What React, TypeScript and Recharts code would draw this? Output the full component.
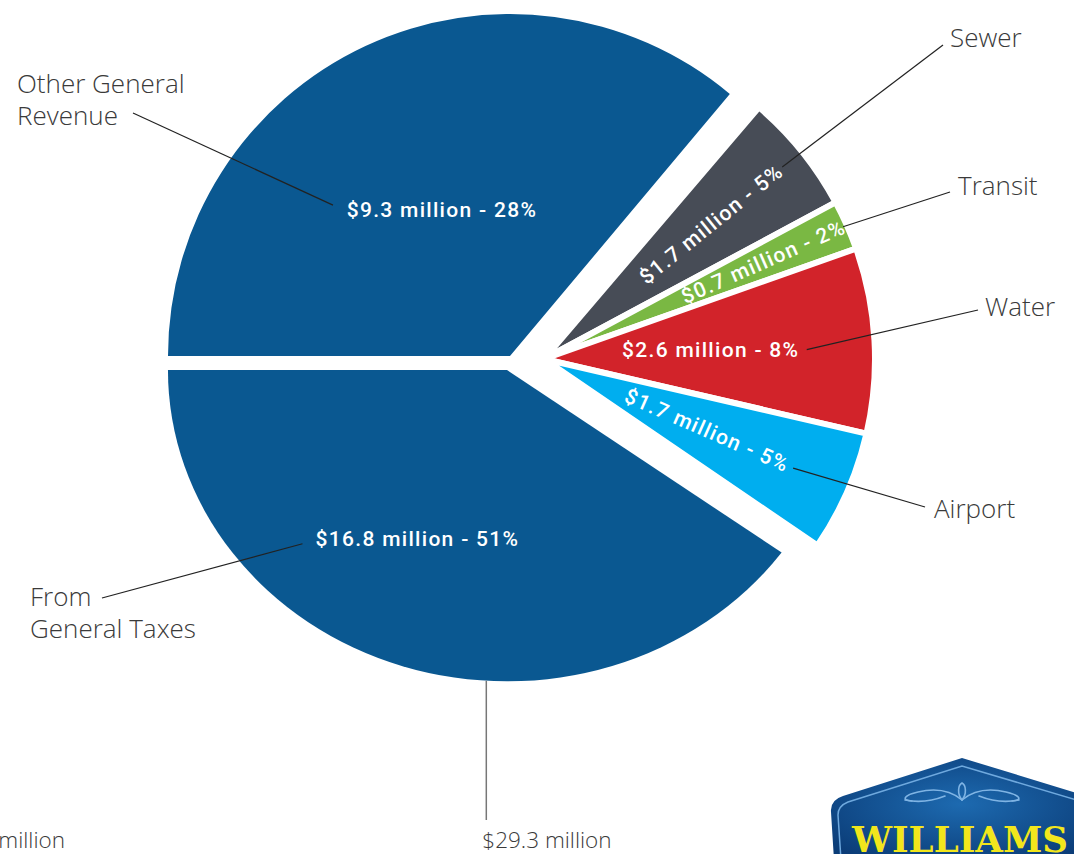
import React from 'react';
import { PieChart, Pie, Cell } from 'recharts';

// ---- data ----
const generalNames = ['Other General Revenue', 'From General Taxes'];
const generalAmounts = [9.3, 16.8];
const generalShares = [28, 51];

const enterpriseNames = ['Sewer', 'Transit', 'Water', 'Airport'];
const enterpriseAmounts = [1.7, 0.7, 2.6, 1.7];
const enterpriseShares = [5, 2, 8, 5];

const totalLabels = ['$29.3 million', 'million'];

// ---- styling / layout ----
const GENERAL_COLOR = '#0a5891';
const enterpriseColors = ['#474c56', '#7ab843', '#d2232a', '#00aeef'];
const LABEL_FONT = "'Open Sans', 'DejaVu Sans', sans-serif";
const INNER_FONT = "Roboto, 'Open Sans', sans-serif";

const TOP = { cx: 510, cy: 356, r: 342, start: 180, end: 50, sx: 1, sy: 1 };
const BOTTOM = { cx: 507, cy: 370, r: 326, start: 180, end: 324.1, sx: 1.04, sy: 0.955 };
const RIGHT = { cx: 544, cy: 359, r: 331, start: 49.5, end: -34.3 };

const outerText: Record<string, { lines: string[]; x: number; y: number; end: [number, number] }> = {
  'Other General Revenue': { lines: ['Other General', 'Revenue'], x: 17, y: 93, end: [133, 113] },
  'From General Taxes': { lines: ['From', 'General Taxes'], x: 30, y: 606, end: [102, 598] },
  Sewer: { lines: ['Sewer'], x: 950, y: 47, end: [943, 45] },
  Transit: { lines: ['Transit'], x: 958, y: 195, end: [950, 192] },
  Water: { lines: ['Water'], x: 985, y: 316, end: [978, 310] },
  Airport: { lines: ['Airport'], x: 934, y: 518, end: [925, 507] },
};

const enterpriseLabelRadius = [215, 240, 167, 178];
const enterpriseLeaderOffset = [91, 87, 96, 94];

const generalData = generalNames.map((name, i) => ({ name, value: generalAmounts[i], share: generalShares[i] }));
const enterpriseData = enterpriseNames.map((name, i) => ({ name, value: enterpriseAmounts[i], share: enterpriseShares[i] }));

const fmt = (v: number, s: number) => `$${v} million - ${s}%`;

const OuterLabel = ({ name }: { name: string }) => {
  const o = outerText[name];
  return (
    <text fontFamily={LABEL_FONT} fontWeight={300} fontSize={26} fill="#3a3a3a">
      {o.lines.map((l, i) => (
        <tspan key={i} x={o.x} y={o.y + i * 32}>
          {l}
        </tspan>
      ))}
    </text>
  );
};

const InnerText = ({ x, y, rot, text }: { x: number; y: number; rot: number; text: string }) => (
  <text
    x={x}
    y={y}
    textAnchor="middle"
    dominantBaseline="central"
    transform={rot ? `rotate(${rot} ${x} ${y})` : undefined}
    fill="#ffffff"
    fontFamily={INNER_FONT}
    fontWeight={500}
    fontSize={21}
    letterSpacing={1.3}
  >
    {text}
  </text>
);

const makeGeneralLabel = (geom: typeof TOP, radius: number, shift: number, leader: [number, number], total?: string) =>
  (p: any) => {
    const d = p.payload ?? p;
    const name = d.name ?? p.name;
    const mid = (p.midAngle ?? (geom.start + geom.end) / 2) + shift;
    const rad = (mid * Math.PI) / 180;
    const x = geom.cx + radius * Math.cos(rad);
    const y = geom.cy - radius * Math.sin(rad);
    const o = outerText[name];
    let extra = null;
    if (total) {
      const a = (266.5 * Math.PI) / 180;
      const bx = geom.cx + geom.r * geom.sx * Math.cos(a);
      const by = geom.cy - geom.r * geom.sy * Math.sin(a);
      extra = (
        <g>
          <line x1={bx} y1={by} x2={bx} y2={820} stroke="#777" strokeWidth={1.5} />
          <text x={bx - 4} y={848} fontFamily={LABEL_FONT} fontWeight={300} fontSize={22.5} fill="#3a3a3a">
            {total}
          </text>
        </g>
      );
    }
    return (
      <g>
        <line x1={x + leader[0]} y1={y + leader[1]} x2={o.end[0]} y2={o.end[1]} stroke="#222" strokeWidth={1.2} />
        <InnerText x={x} y={y} rot={0} text={fmt(d.value ?? p.value, d.share)} />
        <OuterLabel name={name} />
        {extra}
      </g>
    );
  };

const renderEnterpriseLabel = (p: any) => {
  const d = p.payload ?? p;
  const index = p.index ?? enterpriseNames.indexOf(d.name);
  const mid = p.midAngle;
  const rad = (mid * Math.PI) / 180;
  const r = enterpriseLabelRadius[index];
  const x = RIGHT.cx + r * Math.cos(rad);
  const y = RIGHT.cy - r * Math.sin(rad);
  const rot = Math.abs(mid) > 10 ? -mid : 0;
  const dx = rot === 0 ? 1 : Math.cos(rad);
  const dy = rot === 0 ? 0 : -Math.sin(rad);
  const off = enterpriseLeaderOffset[index];
  const o = outerText[d.name];
  return (
    <g>
      <line x1={x + dx * off} y1={y + dy * off} x2={o.end[0]} y2={o.end[1]} stroke="#222" strokeWidth={1.2} />
      <InnerText x={x} y={y} rot={rot} text={fmt(d.value, d.share)} />
      <OuterLabel name={d.name} />
    </g>
  );
};

const Logo = () => (
  <svg width={1074} height={854} style={{ position: 'absolute', left: 0, top: 0, pointerEvents: 'none' }}>
    <defs>
      <radialGradient id="logoGrad" cx="50%" cy="45%" r="65%">
        <stop offset="0" stopColor="#1d6ab0" />
        <stop offset="1" stopColor="#0b3c77" />
      </radialGradient>
    </defs>
    <path d="M834 860 L831 812 Q830 800 843 796 L962 758 L1090 797 L1090 860 Z" fill="url(#logoGrad)" />
    <path d="M841 860 L838 815 Q838 806 848 802 L962 766 L1090 804" fill="none" stroke="#6fa9de" strokeWidth={1.5} />
    <g fill="none" stroke="#7fb4e4" strokeWidth={1.6} strokeLinecap="round">
      <path d="M962 800 C 950 790, 935 788, 918 792 C 905 795, 900 800, 912 801" />
      <path d="M962 800 C 974 790, 989 788, 1006 792 C 1019 795, 1024 800, 1012 801" />
      <path d="M962 800 C 957 794, 958 785, 962 783 C 966 785, 967 794, 962 800" />
      <path d="M945 796 C 935 800, 920 803, 905 800" />
      <path d="M979 796 C 989 800, 1004 803, 1019 800" />
    </g>
    <text
      x={852}
      y={852}
      fontFamily="'DejaVu Serif', serif"
      fontWeight="bold"
      fontSize={36}
      fill="#f2e61c"
      textLength={216}
      lengthAdjust="spacingAndGlyphs"
    >
      WILLIAMS
    </text>
  </svg>
);

const css = `.pie-bottom path { transform-origin: ${BOTTOM.cx}px ${BOTTOM.cy}px; transform: scale(${BOTTOM.sx}, ${BOTTOM.sy}); }`;

export default function App() {
  return (
    <div style={{ position: 'absolute', left: 0, top: 0, width: 1074, height: 854, background: '#fff', overflow: 'hidden' }}>
      <style>{css}</style>
      <PieChart width={1074} height={854} margin={{ top: 0, right: 0, bottom: 0, left: 0 }}>
        <Pie
          data={[generalData[0]]}
          dataKey="value"
          nameKey="name"
          cx={TOP.cx}
          cy={TOP.cy}
          outerRadius={TOP.r}
          startAngle={TOP.start}
          endAngle={TOP.end}
          stroke="none"
          fill={GENERAL_COLOR}
          isAnimationActive={false}
          labelLine={false}
          label={makeGeneralLabel(TOP, 161, 0, [-109, -5])}
        >
          <Cell fill={GENERAL_COLOR} />
        </Pie>
        <Pie
          className="pie-bottom"
          data={[generalData[1]]}
          dataKey="value"
          nameKey="name"
          cx={BOTTOM.cx}
          cy={BOTTOM.cy}
          outerRadius={BOTTOM.r}
          startAngle={BOTTOM.start}
          endAngle={BOTTOM.end}
          stroke="none"
          fill={GENERAL_COLOR}
          isAnimationActive={false}
          labelLine={false}
          label={makeGeneralLabel(BOTTOM, 191, -10, [-115, 5], totalLabels[0])}
        >
          <Cell fill={GENERAL_COLOR} />
        </Pie>
        <Pie
          data={enterpriseData}
          dataKey="value"
          nameKey="name"
          cx={RIGHT.cx}
          cy={RIGHT.cy}
          outerRadius={RIGHT.r}
          startAngle={RIGHT.start}
          endAngle={RIGHT.end}
          stroke="#ffffff"
          strokeWidth={6}
          isAnimationActive={false}
          labelLine={false}
          label={renderEnterpriseLabel}
        >
          {enterpriseData.map((d, i) => (
            <Cell key={d.name} fill={enterpriseColors[i]} />
          ))}
        </Pie>
      </PieChart>
      <svg width={1074} height={854} style={{ position: 'absolute', left: 0, top: 0, pointerEvents: 'none' }}>
        <text x={65} y={848} textAnchor="end" fontFamily={LABEL_FONT} fontWeight={300} fontSize={22.5} fill="#3a3a3a">
          {totalLabels[1]}
        </text>
      </svg>
      <Logo />
    </div>
  );
}
